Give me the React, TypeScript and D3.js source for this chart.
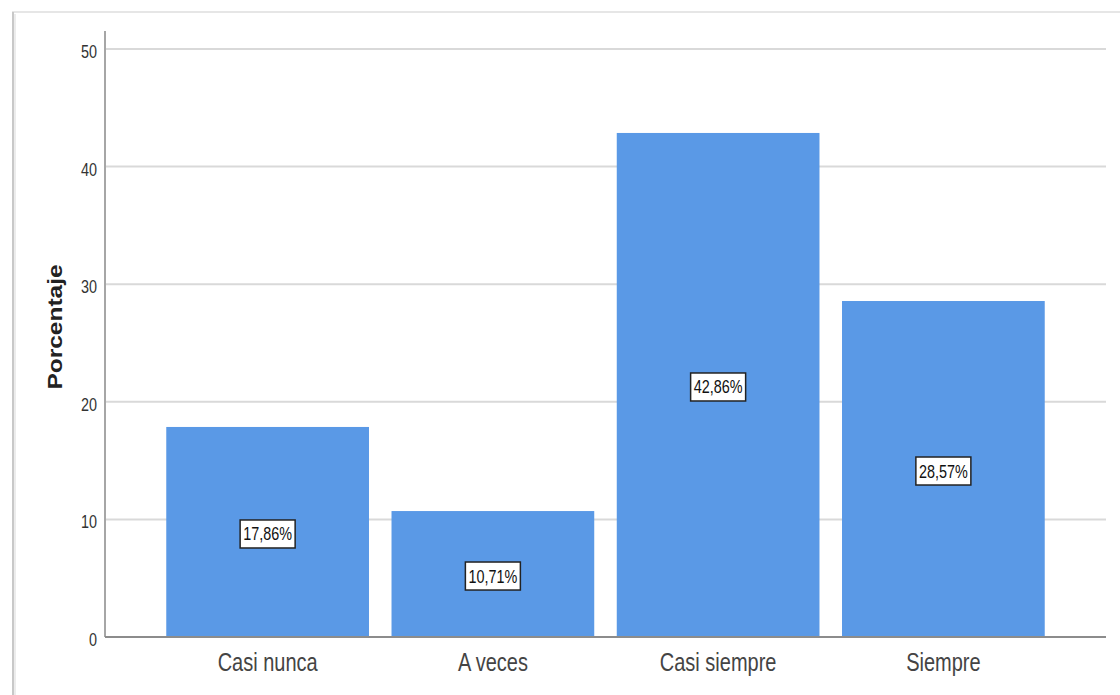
import React from "react";
import * as d3 from "d3";

const categories = ["Casi nunca", "A veces", "Casi siempre", "Siempre"];
const percentages = [17.86, 10.71, 42.86, 28.57];
const yTicks = [0, 10, 20, 30, 40, 50];
const yTitle = "Porcentaje";

const W = 1120;
const H = 695;
const left = 105;
const right = 1106;
const top = 49;
const bottom = 637;

const fmt = (v: number) => v.toFixed(2).replace(".", ",") + "%";

export default function App() {
  const x = d3
    .scaleBand<string>()
    .domain(categories)
    .range([left, right])
    .paddingInner(0.1)
    .paddingOuter(0.272);
  const y = d3.scaleLinear().domain([0, 50]).range([bottom, top]);
  const sx = 0.8;
  const font = "Arial, 'Liberation Sans', sans-serif";

  return (
    <svg
      width={W}
      height={H}
      style={{ position: "absolute", left: 0, top: 0, background: "#fff" }}
    >
      {/* outer frame */}
      <line x1={12} y1={12} x2={W} y2={12} stroke="#e6e6e6" strokeWidth={2} />
      <line x1={13} y1={12} x2={13} y2={H} stroke="#c8c8c8" strokeWidth={2} />
      <line x1={15} y1={14} x2={15} y2={H} stroke="#ececec" strokeWidth={2} />

      {/* gridlines */}
      {yTicks
        .filter((t) => t > 0)
        .map((t) => (
          <line
            key={"g" + t}
            x1={left}
            x2={right}
            y1={y(t)}
            y2={y(t)}
            stroke="#d9d9d9"
            strokeWidth={2}
          />
        ))}

      {/* bars */}
      {categories.map((c, i) => (
        <rect
          key={c}
          x={x(c)}
          y={y(percentages[i])}
          width={x.bandwidth()}
          height={y(0) - y(percentages[i])}
          fill="#5a99e6"
        />
      ))}

      {/* axes */}
      <line x1={left} x2={left} y1={y(0)} y2={top - 18} stroke="#a6a6a6" strokeWidth={2} />
      <line x1={left} x2={right} y1={y(0)} y2={y(0)} stroke="#8c8c8c" strokeWidth={2} />

      {/* y tick labels */}
      {yTicks.map((t) => (
        <text
          key={"t" + t}
          transform={`translate(${left - 8},${y(t) + 9}) scale(${sx},1)`}
          textAnchor="end"
          fontFamily={font}
          fontSize={18}
          fill="#333"
        >
          {t}
        </text>
      ))}

      {/* category labels */}
      {categories.map((c) => (
        <text
          key={"c" + c}
          transform={`translate(${(x(c) ?? 0) + x.bandwidth() / 2},${bottom + 34}) scale(${sx},1)`}
          textAnchor="middle"
          fontFamily={font}
          fontSize={25}
          fill="#444"
        >
          {c}
        </text>
      ))}

      {/* y axis title */}
      <text
        transform={`translate(62,${(top + bottom) / 2 - 16}) scale(${sx},1) rotate(-90)`}
        textAnchor="middle"
        fontFamily={font}
        fontSize={24.5}
        fontWeight="bold"
        fill="#222"
      >
        {yTitle}
      </text>

      {/* value labels */}
      {categories.map((c, i) => {
        const cx = (x(c) ?? 0) + x.bandwidth() / 2;
        const cy = (y(0) + y(percentages[i])) / 2;
        const label = fmt(percentages[i]);
        const bw = 55;
        const bh = 28;
        return (
          <g key={"v" + c}>
            <rect
              x={cx - bw / 2}
              y={cy - bh / 2 + 2}
              width={bw}
              height={bh}
              fill="#fff"
              stroke="#222"
              strokeWidth={1.5}
            />
            <text
              transform={`translate(${cx},${cy + 8.5}) scale(${sx},1)`}
              textAnchor="middle"
              fontFamily={font}
              fontSize={18}
              fill="#111"
            >
              {label}
            </text>
          </g>
        );
      })}
    </svg>
  );
}
